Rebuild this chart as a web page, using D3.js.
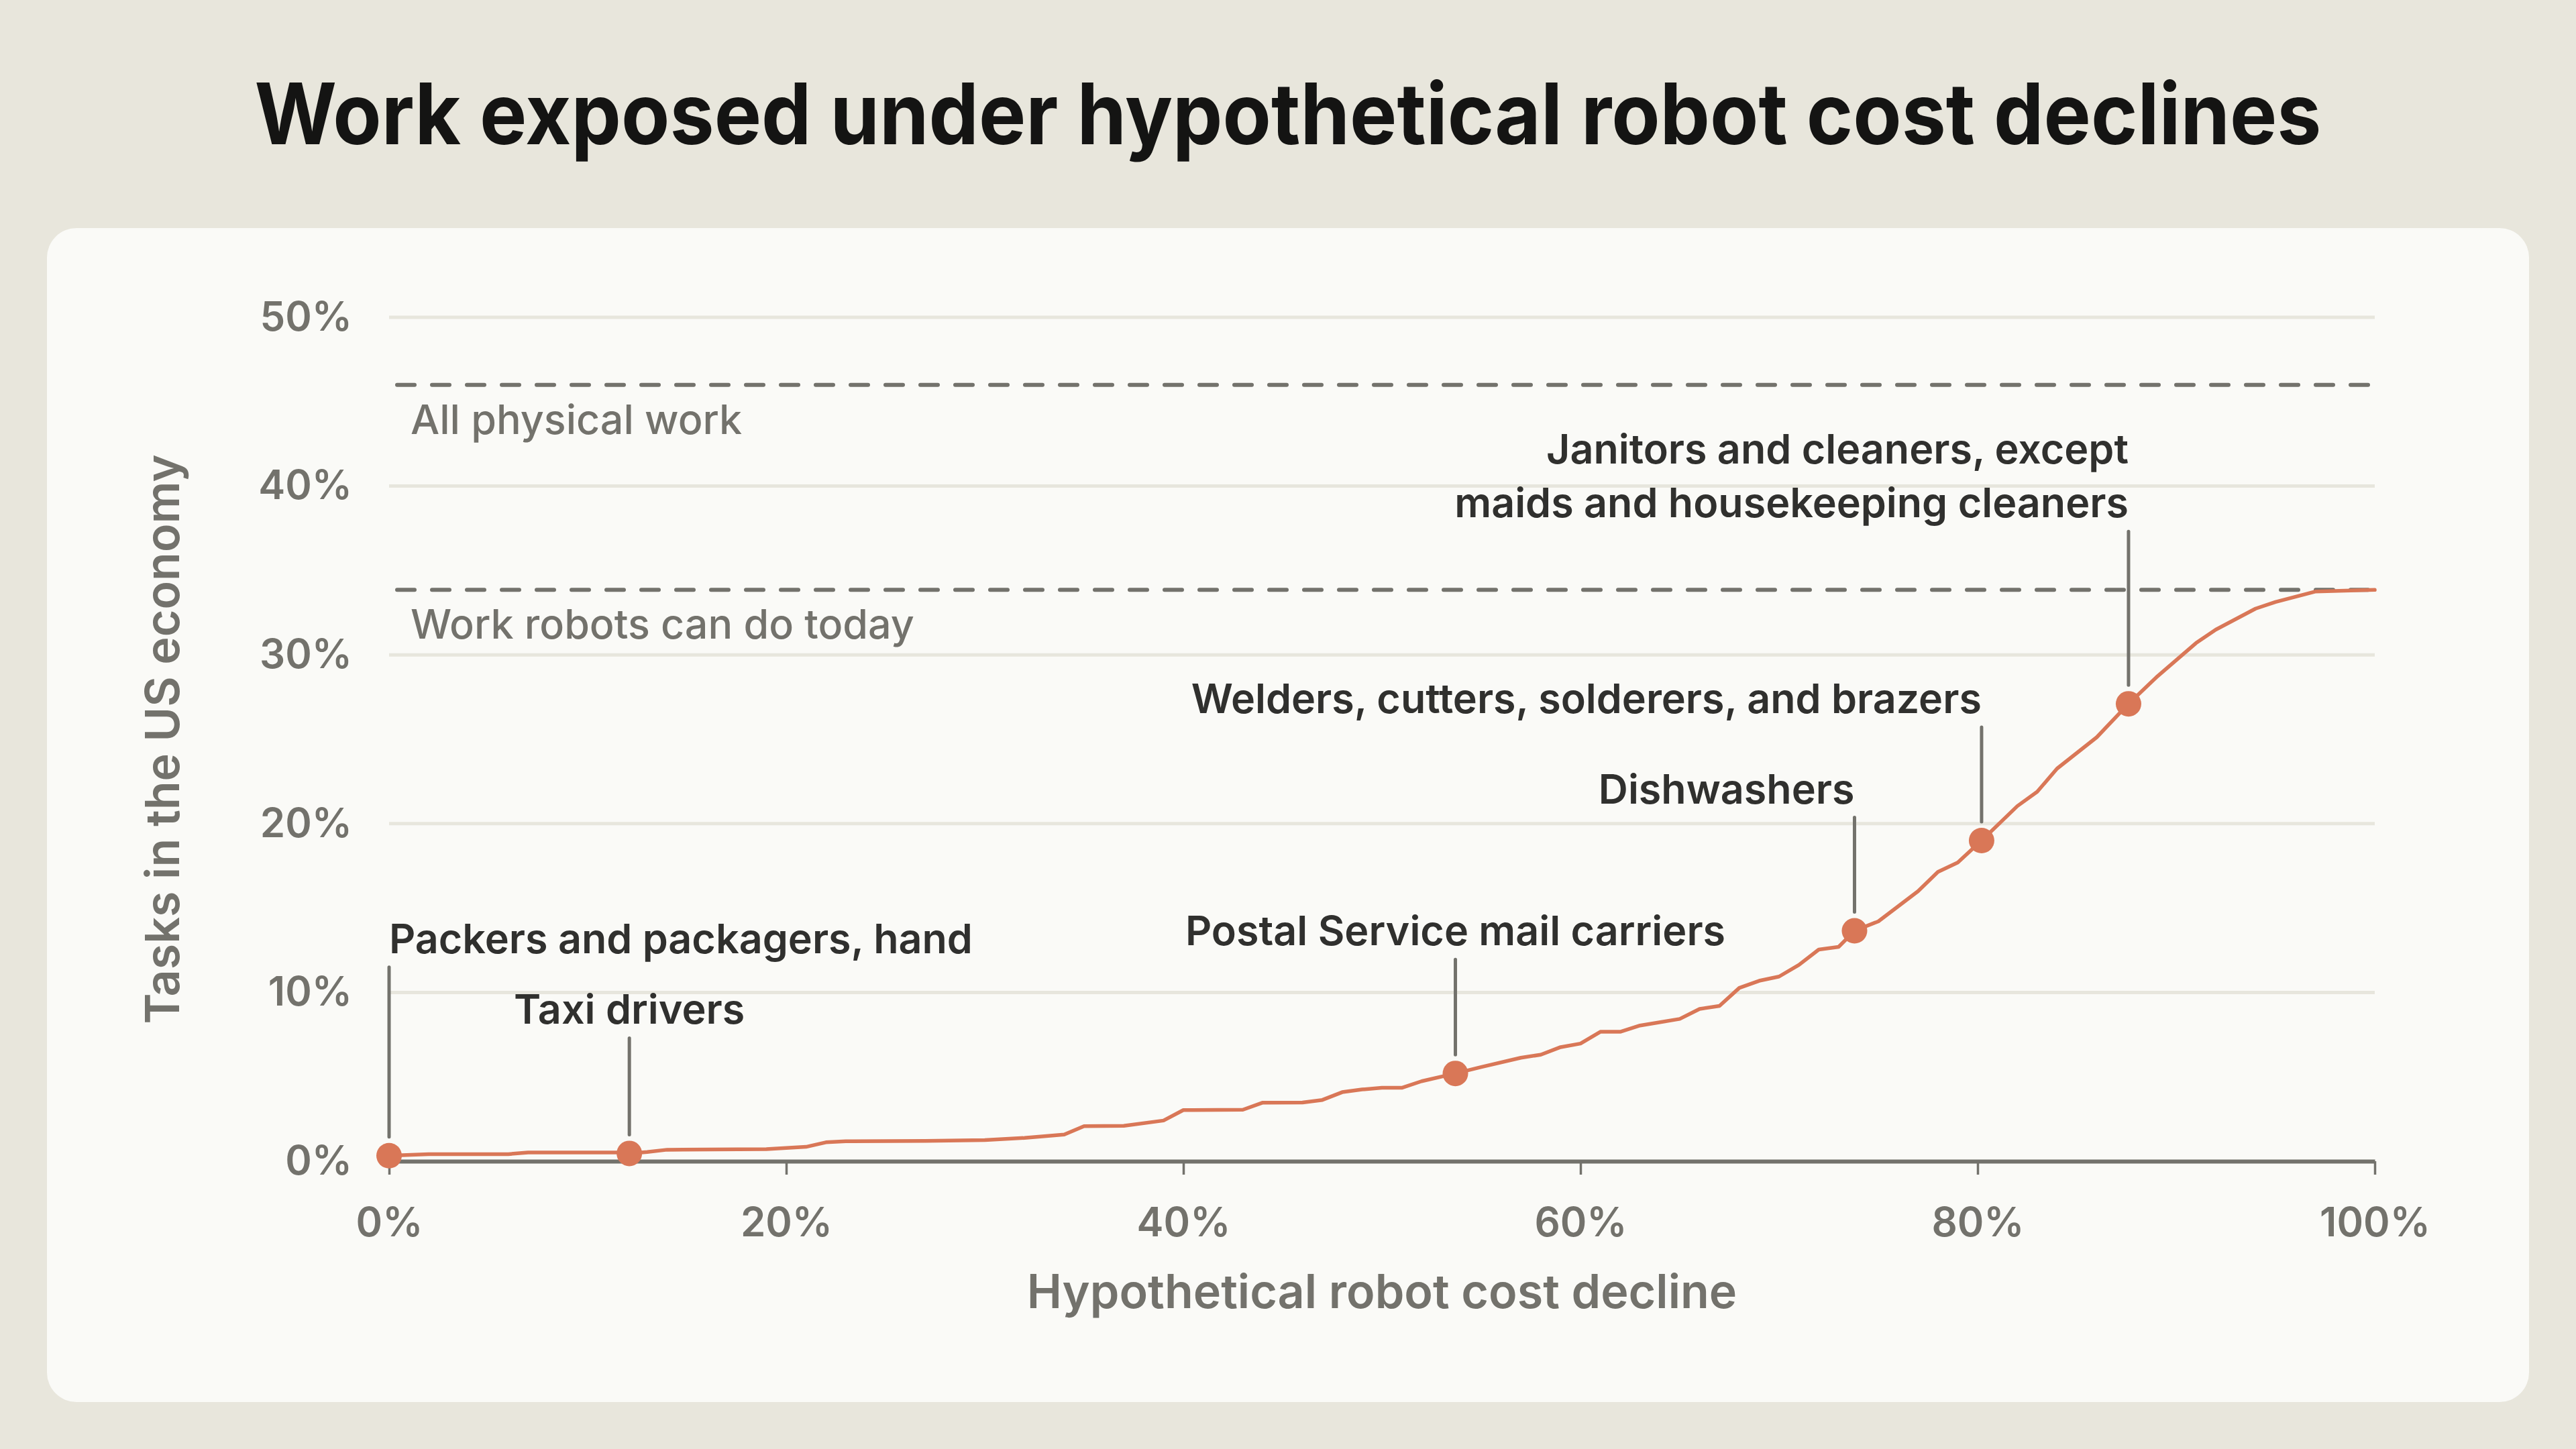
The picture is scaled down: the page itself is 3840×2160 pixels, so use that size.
<!DOCTYPE html>
<html>
<head>
<meta charset="utf-8">
<script src="https://cdn.jsdelivr.net/npm/d3@7"></script>
<style>
  html, body { margin: 0; padding: 0; background: #e8e6dc; }
  svg { display: block; font-family: Inter, "Noto Sans", sans-serif; }
</style>
</head>
<body>
<svg id="chart" width="3840" height="2160"></svg>
<script>
// curve vertices (x = cost decline %, y = share of tasks %)
var declines = [0, 2, 6, 7, 11.5, 12.1, 13, 14, 19, 21, 22, 23, 27, 30, 32, 34, 35, 37, 39, 40, 43, 44, 46, 47, 48, 49, 50, 51, 52, 53.7,
  55, 57, 58, 59, 60, 61, 62, 63, 65, 66, 67, 68, 69, 70, 71, 72, 73, 73.8, 75, 77, 78, 79, 80.2, 82, 83, 84, 86, 87.6, 89, 91, 92, 94, 95, 97, 100];
var shares = [0.33, 0.42, 0.42, 0.52, 0.52, 0.46, 0.55, 0.68, 0.72, 0.85, 1.12, 1.18, 1.2, 1.25, 1.38, 1.58, 2.08, 2.1, 2.41, 3.03, 3.05, 3.47, 3.48, 3.63, 4.09, 4.25, 4.35, 4.35, 4.74, 5.2,
  5.58, 6.13, 6.31, 6.76, 6.97, 7.67, 7.67, 8.04, 8.43, 9.02, 9.2, 10.27, 10.69, 10.94, 11.63, 12.54, 12.7, 13.65, 14.21, 16.0, 17.14, 17.7, 19.0, 21.04, 21.89, 23.26, 25.12, 27.1, 28.67, 30.7, 31.5, 32.74, 33.13, 33.75, 33.85];

// highlighted occupations
var jobNames = ["Packers and packagers, hand", "Taxi drivers", "Postal Service mail carriers", "Dishwashers",
  "Welders, cutters, solderers, and brazers", "Janitors and cleaners, except maids and housekeeping cleaners"];
var jobDeclines = [0, 12.1, 53.7, 73.8, 80.2, 87.6];
var jobShares = [0.33, 0.46, 5.2, 13.65, 19.0, 27.1];

// reference levels
var refNames = ["All physical work", "Work robots can do today"];
var refShares = [46, 33.85];

var xTicks = [0, 20, 40, 60, 80, 100];
var yTicks = [0, 10, 20, 30, 40, 50];

var title = "Work exposed under hypothetical robot cost declines";
var xTitle = "Hypothetical robot cost decline";
var yTitle = "Tasks in the US economy";

// label placement per highlighted job: anchor, leader length, text lines
var jobLayout = [
  { anchor: "start", leader: 253, lines: ["Packers and packagers, hand"] },
  { anchor: "middle", leader: 144, lines: ["Taxi drivers"] },
  { anchor: "middle", leader: 142, lines: ["Postal Service mail carriers"] },
  { anchor: "end", leader: 141, lines: ["Dishwashers"] },
  { anchor: "end", leader: 141, lines: ["Welders, cutters, solderers, and brazers"] },
  { anchor: "end", leader: 229, lines: ["Janitors and cleaners, except", "maids and housekeeping cleaners"] }
];

var ORANGE = "#d97757", GREY = "#73726c", DARK = "#30302e";

var svg = d3.select("#chart");

svg.append("rect").attr("width", 3840).attr("height", 2160).attr("fill", "#e8e6dc");
svg.append("rect")
  .attr("x", 70).attr("y", 340).attr("width", 3700).attr("height", 1750)
  .attr("rx", 44).attr("fill", "#fafaf7");

var t = svg.append("text")
  .attr("x", 1920).attr("y", 215)
  .attr("text-anchor", "middle")
  .style("font-size", "127px").style("font-weight", 700)
  .attr("fill", "#141413")
  .text(title);
// squeeze to the width of the original heading
t.attr("textLength", 3081).attr("lengthAdjust", "spacingAndGlyphs");

var x = d3.scaleLinear().domain([0, 100]).range([580, 3540]);
var y = d3.scaleLinear().domain([0, 50]).range([1731, 473]);

// grid
svg.append("g").selectAll("line")
  .data(yTicks.filter(function(d) { return d > 0; }))
  .enter().append("line")
  .attr("x1", x(0)).attr("x2", x(100))
  .attr("y1", function(d) { return y(d); }).attr("y2", function(d) { return y(d); })
  .attr("stroke", "#e7e6dd").attr("stroke-width", 5);

// y axis labels
var gy = svg.append("g").attr("transform", "translate(" + x(0) + ",0)")
  .call(d3.axisLeft(y).tickValues(yTicks).tickSize(0).tickPadding(55).tickFormat(function(d) { return d + "%"; }));
gy.select(".domain").remove();
gy.selectAll("text").attr("fill", GREY).style("font-size", "60px").style("font-weight", 600)
  .style("font-family", "Inter, sans-serif");

// reference dashed lines
var refs = svg.append("g");
refs.selectAll("line").data(refShares).enter().append("line")
  .attr("x1", x(0) + 12).attr("x2", x(100))
  .attr("y1", function(d) { return y(d); }).attr("y2", function(d) { return y(d); })
  .attr("stroke", GREY).attr("stroke-width", 6)
  .attr("stroke-dasharray", "26,26").attr("stroke-linecap", "round");
refs.selectAll("text").data(refShares).enter().append("text")
  .attr("x", x(0) + 32).attr("y", function(d) { return y(d) + 73; })
  .attr("fill", GREY).style("font-size", "61px").style("font-weight", 500)
  .text(function(d, i) { return refNames[i]; });

// x axis
var gx = svg.append("g").attr("transform", "translate(0," + y(0) + ")")
  .call(d3.axisBottom(x).tickValues(xTicks).tickSize(20).tickSizeOuter(0).tickPadding(49)
    .tickFormat(function(d) { return d + "%"; }));
gx.select(".domain").attr("stroke", GREY).attr("stroke-width", 6);
gx.selectAll(".tick line").attr("stroke", GREY).attr("stroke-width", 3.5);
gx.selectAll("text").attr("fill", GREY).style("font-size", "60px").style("font-weight", 600)
  .style("font-family", "Inter, sans-serif");

// axis titles
svg.append("text")
  .attr("x", (x(0) + x(100)) / 2).attr("y", 1950)
  .attr("text-anchor", "middle").attr("fill", GREY)
  .style("font-size", "70px").style("font-weight", 600)
  .text(xTitle);
svg.append("text")
  .attr("transform", "translate(267," + (y(0) + y(50)) / 2 + ") rotate(-90)")
  .attr("text-anchor", "middle").attr("fill", GREY)
  .style("font-size", "70px").style("font-weight", 600)
  .text(yTitle);

// the curve
var pts = declines.map(function(d, i) { return [d, shares[i]]; });
svg.append("path")
  .datum(pts)
  .attr("fill", "none").attr("stroke", ORANGE).attr("stroke-width", 5.5)
  .attr("stroke-linejoin", "round").attr("stroke-linecap", "round")
  .attr("d", d3.line().x(function(d) { return x(d[0]); }).y(function(d) { return y(d[1]); }));

// highlighted jobs: leader, label, dot
var ann = svg.append("g");
jobNames.forEach(function(name, i) {
  var L = jobLayout[i];
  var cx = x(jobDeclines[i]), cy = y(jobShares[i]);
  var bottom = cy - 28, top = bottom - L.leader;
  ann.append("line")
    .attr("x1", cx).attr("x2", cx).attr("y1", top).attr("y2", bottom)
    .attr("stroke", GREY).attr("stroke-width", 5).attr("stroke-linecap", "round");
  var txt = ann.append("text")
    .attr("text-anchor", L.anchor).attr("fill", DARK)
    .style("font-size", "61px").style("font-weight", 600);
  var n = L.lines.length;
  L.lines.forEach(function(s, j) {
    txt.append("tspan").attr("x", cx).attr("y", top - 21 - (n - 1 - j) * 80).text(s);
  });
  ann.append("circle").attr("cx", cx).attr("cy", cy).attr("r", 19).attr("fill", ORANGE);
});
</script>
</body>
</html>
